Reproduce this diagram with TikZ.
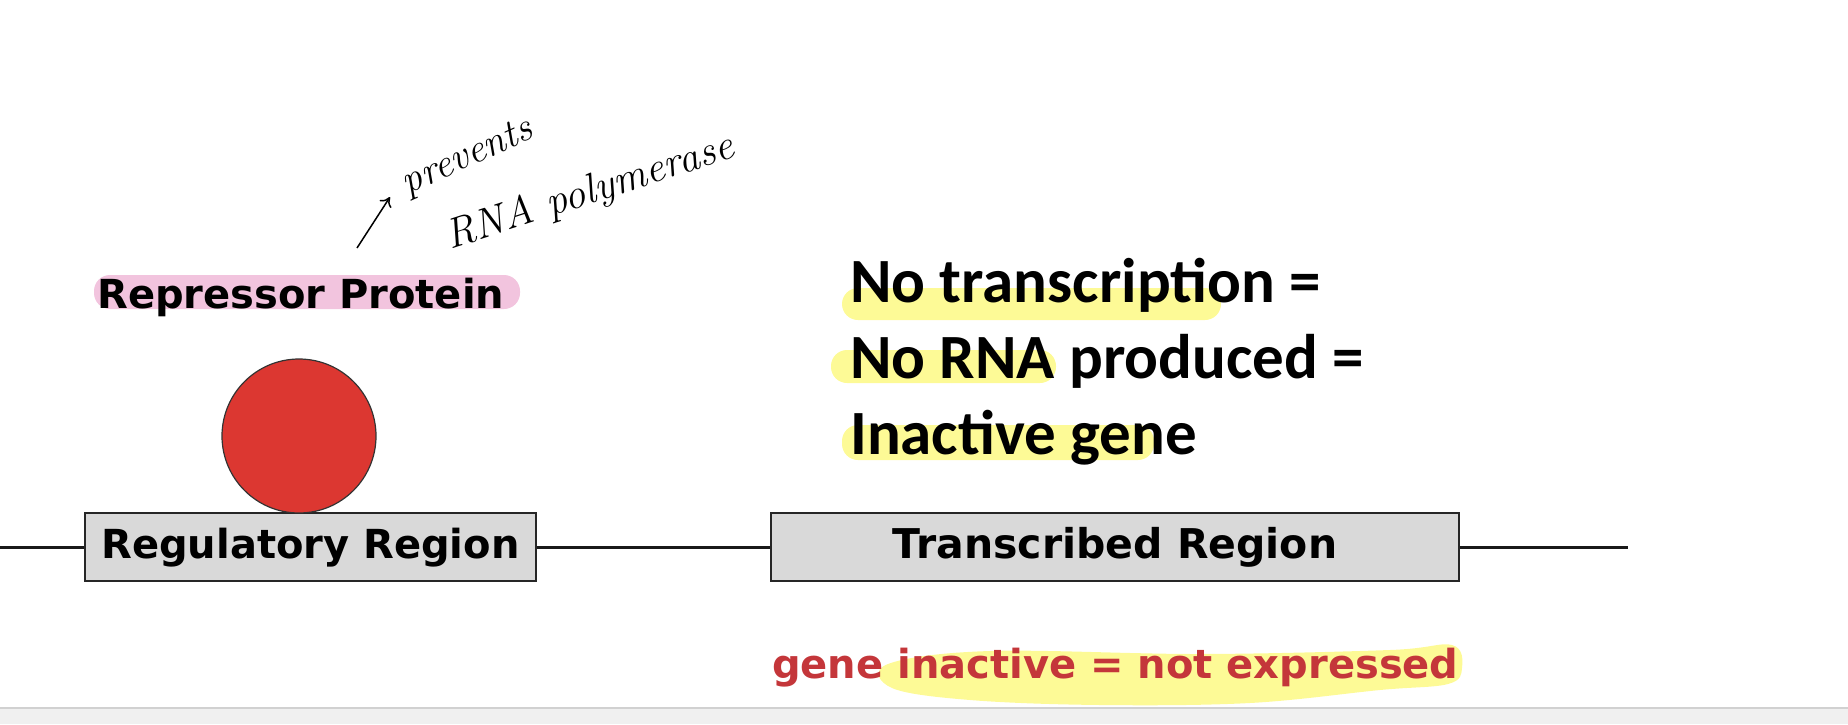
\documentclass[tikz,border=0pt]{standalone}
\usepackage{fontspec}
\usepackage{tikz}
\usetikzlibrary{calc,arrows.meta}
\newfontfamily\boxfont{DejaVu Sans}
\newfontfamily\notefont{Carlito}
\definecolor{boxgray}{RGB}{217,217,217}
\definecolor{protred}{RGB}{220,55,49}
\definecolor{labelred}{RGB}{196,54,58}
\definecolor{hlpink}{RGB}{242,196,222}
\definecolor{hlyellow}{RGB}{253,250,150}
\tikzset{
	regionbox/.style={draw=black!85, line width=1.6pt, fill=boxgray, minimum height=68pt, inner sep=0pt,
		text height=28pt, text depth=6pt, font=\boxfont\bfseries\fontsize{40}{41}\selectfont},
	marker/.style={rounded corners=16pt},
	notetext/.style={anchor=base west, inner sep=0pt, font=\notefont\bfseries\fontsize{63}{70}\selectfont},
	scribble/.style={inner sep=0pt, font=\itshape\fontsize{40}{40}\selectfont},
}

\begin{document}
\begin{tikzpicture}[x=1pt, y=-1pt]
			%%%%% START %%%%%
			\useasboundingbox (0,0) rectangle (1848,724);
			
			% window edge at the bottom
			\fill[black!6] (0,708) rectangle (1848,724);
			\draw[black!18, line width=1.5pt] (0,708) -- (1848,708);
			
			% highlighter marks
			\fill[hlpink, marker] (94,275) rectangle (520,309);
			\fill[hlyellow, marker] (842,288) rectangle (1221,320);
			\fill[hlyellow, marker] (831,350) rectangle (1056,383);
			\fill[hlyellow, marker] (842,425) rectangle (1154,460);
			\fill[hlyellow] plot[smooth cycle, tension=0.6] coordinates {(888,664) (990,651) (1200,654) (1390,650) (1452,645) (1462,668) (1448,684) (1380,690) (1250,703) (1100,705) (970,700) (892,688)};
			
			% gene
			\node[regionbox, minimum width=451pt] (reg) at (310.5,547) {Regulatory Region};
			\node[regionbox, minimum width=688pt, font=\boxfont\bfseries\fontsize{41}{42}\selectfont] (trans) at (1115,547) {Transcribed Region};
			\coordinate (dnaL) at (0,547);
			\coordinate (dnaR) at (1628,547);
			\draw[line width=3pt, color=black!90] (dnaL) -- (reg.west);
			\draw[line width=3pt, color=black!90] (reg.east) -- (trans.west);
			\draw[line width=3pt, color=black!90] (trans.east) -- (dnaR);
			
			\node[circle, draw=black!80, line width=1.2pt, fill=protred, minimum size=154pt, inner sep=0pt] (repressor) at (299,436) {};
			\node[anchor=base west, inner sep=0pt, font=\boxfont\bfseries\fontsize{40}{41}\selectfont] (replabel) at (97,308) {Repressor Protein};
			
			% notes
			\node[notetext] (note1) at (850,302) {No transcription =};
			\node[notetext] (note2) at (850,378) {No RNA produced =};
			\node[notetext] (note3) at (850,454) {Inactive gene};
			\node[anchor=base west, inner sep=0pt, text=labelred, font=\boxfont\bfseries\fontsize{40}{40}\selectfont] (status) at (772,678) {gene inactive = not expressed};
			
			% handwriting
			\coordinate (penstart) at (357,248);
			\coordinate (penend) at (390,197);
			\draw[line width=1.5pt, -{To[length=9pt, width=14pt]}] (penstart) -- (penend);
			\node[scribble, rotate=24] (prevents) at (468,158) {prevents};
			\node[scribble, rotate=18, font=\itshape\fontsize{42}{42}\selectfont] (polymerase) at (590,193) {RNA polymerase};
			
			%%%%% END %%%%%
\end{tikzpicture}
\end{document}
